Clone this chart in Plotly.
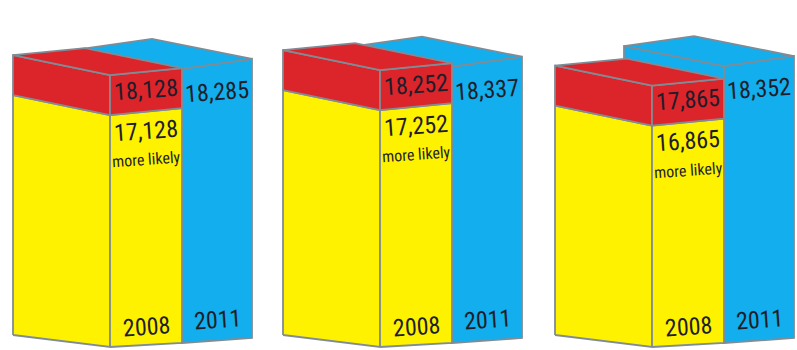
import plotly.graph_objects as go

# ---- data ----
red_total_2008 = [18128, 18252, 17865]
yellow_likely_2008 = [17128, 17252, 16865]
blue_2011 = [18285, 18337, 18352]
year_labels = ["2008", "2011"]
likely_note = "more likely"

# ---- layout / style constants ----
S = 0.04            # pixels per unit on the value axis
BASE = 11330        # value at ground level (front corner)
Y_MIN = BASE - 3 / S
Y_MAX = Y_MIN + 350 / S
GROUP_X = [13, 283, 555]

RED = "#dc242b"
YELLOW = "#fff200"
BLUE = "#12aeee"
EDGE = "#808c95"
TXT = "#1e1e2a"
FONT = "Liberation Sans Narrow, Arial Narrow, Roboto Condensed, Roboto, sans-serif"


def up(px):
    return px / S


fig = go.Figure()


def face(xs, ys, color):
    fig.add_trace(go.Scatter(
        x=xs + [xs[0]], y=ys + [ys[0]], mode="lines", fill="toself",
        fillcolor=color, line=dict(color=EDGE, width=1.8),
        hoverinfo="skip", showlegend=False))


annotations = []


def label(x, y, text, size):
    annotations.append(dict(x=x, y=y, xref="x", yref="y", text=text,
                            showarrow=False, textangle=-4,
                            xanchor="center", yanchor="middle",
                            font=dict(family=FONT, size=size, color=TXT)))


for gx, vr, vy, vb in zip(GROUP_X, red_total_2008, yellow_likely_2008, blue_2011):
    G = BASE
    # ---- blue box (2011), drawn first (behind) ----
    bl, bf, br, bb = gx + 69, gx + 169, gx + 239, gx + 139
    face([bl, bf, bf, bl], [G + up(14), G + up(4), vb, vb + up(20)], BLUE)
    face([bf, br, br, bf], [G + up(4), G + up(9), vb + up(10), vb], BLUE)
    face([bl, bb, br, bf], [vb + up(20), vb + up(30), vb + up(10), vb], BLUE)

    # ---- yellow / red box (2008) ----
    L, F, R, B = gx, gx + 97, gx + 169, gx + 72
    face([L, F, F, L], [G + up(12), G, vy, vy + up(20)], YELLOW)
    face([F, R, R, F], [G, G + up(4), vy + up(7), vy], YELLOW)
    face([L, F, F, L], [vy + up(20), vy, vr, vr + up(20)], RED)
    face([F, R, R, F], [vy, vy + up(7), vr + up(7), vr], RED)
    face([L, B, R, F], [vr + up(20), vr + up(27), vr + up(7), vr], RED)

    # ---- labels ----
    fx = (F + R) / 2
    bx = (bf + br) / 2
    label(fx, vr + up(3.5) - up(18), f"{vr:,}", 24)
    label(fx, vy + up(3.5) - up(19), f"{vy:,}", 24)
    label(fx, vy + up(3.5) - up(48), likely_note, 16)
    label(bx, vb + up(5) - up(28), f"{vb:,}", 24)
    label(fx, G + up(2) + up(18), year_labels[0], 24)
    label(bx, G + up(6.5) + up(21), year_labels[1], 24)

fig.update_layout(
    width=797, height=350,
    margin=dict(l=0, r=0, t=0, b=0),
    paper_bgcolor="white", plot_bgcolor="white",
    xaxis=dict(range=[0, 797], visible=False, fixedrange=True),
    yaxis=dict(range=[Y_MIN, Y_MAX], visible=False, fixedrange=True),
    annotations=annotations,
)

fig.write_html("out.html")
